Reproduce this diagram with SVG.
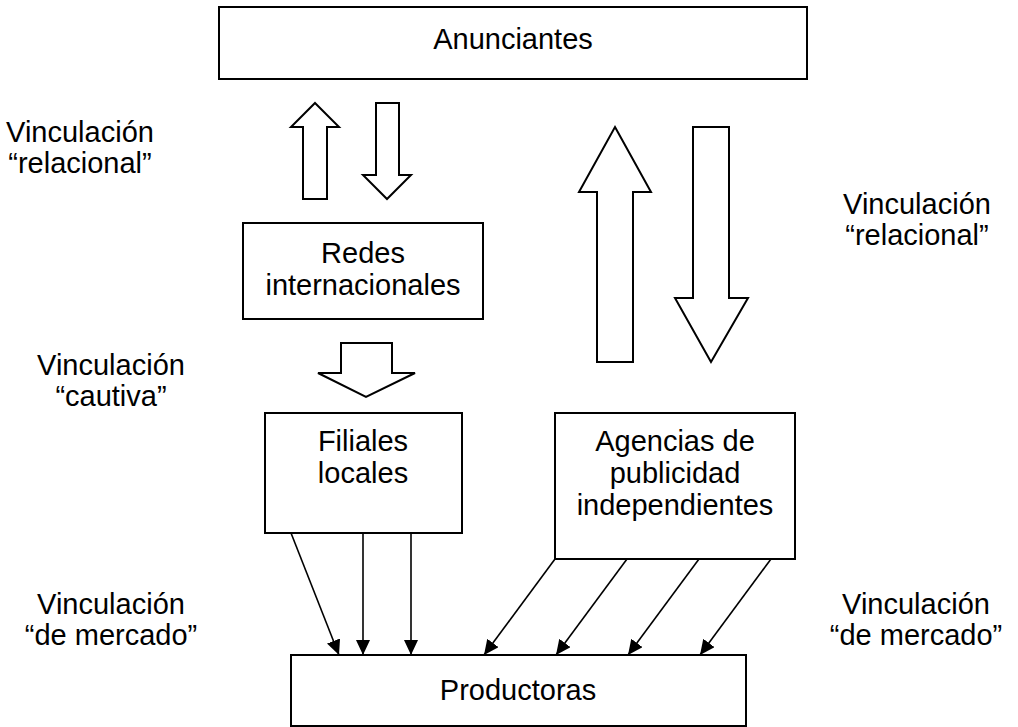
<svg xmlns="http://www.w3.org/2000/svg" width="1018" height="727" viewBox="0 0 1018 727">
  <style>
    .box { fill: #fff; stroke: #000; stroke-width: 2; }
    .blk { fill: #fff; stroke: #000; stroke-width: 2; stroke-linejoin: miter; }
    .lbl { font-family: "Liberation Sans", Arial, sans-serif; font-size: 29px; fill: #000; text-anchor: middle; }
    .thin { stroke: #000; stroke-width: 1.6; fill: none; marker-end: url(#head); }
  </style>
  <defs>
    <marker id="head" viewBox="0 0 15 14" refX="15" refY="7" markerWidth="15" markerHeight="14" markerUnits="userSpaceOnUse" orient="auto">
      <path d="M0,0 L15,7 L0,14 z" fill="#000"/>
    </marker>
  </defs>
  <rect width="1018" height="727" fill="#fff"/>

  <!-- Nodes -->
  <g id="anunciantes">
    <rect class="box" x="219" y="7" width="588" height="72"/>
    <text class="lbl" x="513" y="49">Anunciantes</text>
  </g>
  <g id="redes">
    <rect class="box" x="243" y="223" width="240" height="96"/>
    <text class="lbl" x="363" y="263">Redes</text>
    <text class="lbl" x="363" y="295">internacionales</text>
  </g>
  <g id="filiales">
    <rect class="box" x="265" y="413" width="197" height="120"/>
    <text class="lbl" x="363" y="451">Filiales</text>
    <text class="lbl" x="363" y="483">locales</text>
  </g>
  <g id="agencias">
    <rect class="box" x="555" y="413" width="240" height="146"/>
    <text class="lbl" x="675" y="451">Agencias de</text>
    <text class="lbl" x="675" y="483">publicidad</text>
    <text class="lbl" x="675" y="515">independientes</text>
  </g>
  <g id="productoras">
    <rect class="box" x="291" y="655" width="455" height="71"/>
    <text class="lbl" x="518" y="700">Productoras</text>
  </g>

  <!-- Link labels -->
  <g id="labels">
    <text class="lbl" x="80" y="142">Vinculación</text>
    <text class="lbl" x="80" y="173">“relacional”</text>
    <text class="lbl" x="917" y="214">Vinculación</text>
    <text class="lbl" x="917" y="245">“relacional”</text>
    <text class="lbl" x="111" y="375">Vinculación</text>
    <text class="lbl" x="111" y="406">“cautiva”</text>
    <text class="lbl" x="111" y="614">Vinculación</text>
    <text class="lbl" x="111" y="645">“de mercado”</text>
    <text class="lbl" x="916" y="614">Vinculación</text>
    <text class="lbl" x="916" y="645">“de mercado”</text>
  </g>

  <!-- Connectors -->
  <g id="connectors">
    <!-- block arrows between Anunciantes and Redes -->
    <path class="blk" d="M315,103 L339,127 L327,127 L327,199 L303,199 L303,127 L291,127 Z"/>
    <path class="blk" d="M376,103 L399,103 L399,175 L411,175 L387,199 L363,175 L376,175 Z"/>
    <!-- block arrows between Anunciantes and Agencias -->
    <path class="blk" d="M615,127 L651,192 L633,192 L633,362 L597,362 L597,192 L579,192 Z"/>
    <path class="blk" d="M693,127 L729,127 L729,298 L748,298 L711,362 L675,298 L693,298 Z"/>
    <!-- Redes to Filiales -->
    <path class="blk" d="M341,343 L392,343 L392,373 L415,373 L366,397 L318,373 L341,373 Z"/>
    <!-- Filiales to Productoras -->
    <line class="thin" x1="291" y1="533" x2="339" y2="655"/>
    <line class="thin" x1="363" y1="533" x2="363" y2="655"/>
    <line class="thin" x1="411" y1="533" x2="411" y2="655"/>
    <!-- Agencias to Productoras -->
    <line class="thin" x1="555" y1="559" x2="484" y2="655"/>
    <line class="thin" x1="627" y1="559" x2="556" y2="655"/>
    <line class="thin" x1="699" y1="559" x2="628" y2="655"/>
    <line class="thin" x1="771" y1="559" x2="700" y2="655"/>
  </g>
</svg>
